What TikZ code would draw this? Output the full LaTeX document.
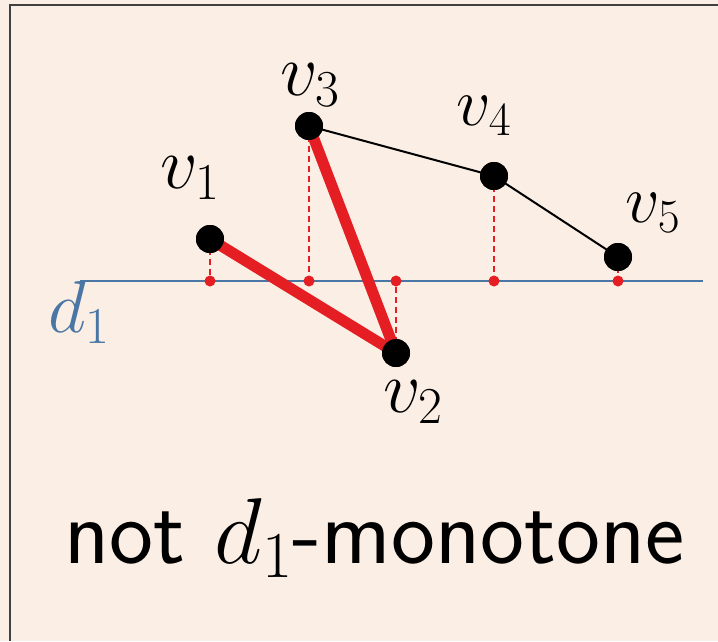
\RequirePackage{fix-cm}
\documentclass[tikz,border=0pt]{standalone}
\usepackage{tikz}
\definecolor{bgbeige}{RGB}{251,238,228}
\definecolor{redline}{RGB}{228,30,34}
\definecolor{dblue}{RGB}{74,118,166}
\begin{document}
\begin{tikzpicture}[x=1pt,y=-1pt,
  vtx/.style={circle,fill=black,inner sep=0pt,minimum size=28pt},
  proj/.style={circle,fill=redline,inner sep=0pt,minimum size=11pt},
  redge/.style={redline,line width=11pt},
  bedge/.style={black,line width=2pt},
  projline/.style={redline,line width=2.2pt,dash pattern=on 6pt off 4pt},
  vlab/.style={anchor=base,inner sep=0pt,font=\fontsize{74}{82}\selectfont},
  vlabs/.style={anchor=base,inner sep=0pt,font=\fontsize{68}{76}\selectfont}]
\useasboundingbox (0,0) rectangle (718,641);
\fill[bgbeige] (0,0) rectangle (718,641);
\draw[line width=1.5pt,black!75] (10,641) -- (10,5) -- (718,5);
% line d1
\coordinate (dA) at (80,281);
\coordinate (dB) at (703,281);
\draw[dblue,line width=2pt] (dA) -- (dB);
\node[anchor=base,inner sep=0pt,text=dblue,font=\fontsize{74}{82}\selectfont] (dlab) at (79,332) {$d_1$};
% vertices
\node[vtx] (v1) at (210,239) {};
\node[vtx] (v2) at (396,353) {};
\node[vtx] (v3) at (309,126) {};
\node[vtx] (v4) at (494,176) {};
\node[vtx] (v5) at (618,257) {};
% projections
\node[proj] (p1) at (210,281) {};
\node[proj] (p2) at (396,281) {};
\node[proj] (p3) at (309,281) {};
\node[proj] (p4) at (494,281) {};
\node[proj] (p5) at (618,281) {};
\draw[projline] (v1.center) -- (p1);
\draw[projline] (p2) -- (v2.center);
\draw[projline] (v3.center) -- (p3);
\draw[projline] (v4.center) -- (p4);
\draw[projline] (v5.center) -- (p5);
% edges
\draw[redge] (v1.center) -- (v2.center);
\draw[redge] (v2.center) -- (v3.center);
\draw[bedge] (v3.center) -- (v4.center);
\draw[bedge] (v4.center) -- (v5.center);
% redraw dots on top
\foreach \v in {v1,v2,v3,v4,v5} \fill[black] (\v.center) circle (14pt);
% labels
\node[vlab] (l1) at (190,188) {$v_1$};
\node[vlab] (l2) at (413,412) {$v_2$};
\node[vlab] (l3) at (310,95) {$v_3$};
\node[vlabs] (l4) at (484,125) {$v_4$};
\node[vlabs] (l5) at (653,222) {$v_5$};
% caption
\node[anchor=base,inner sep=0pt,font=\fontsize{93.5}{100}\selectfont\sffamily] (cap) at (374.5,563) {not $d_1$-monotone};
\end{tikzpicture}
\end{document}
